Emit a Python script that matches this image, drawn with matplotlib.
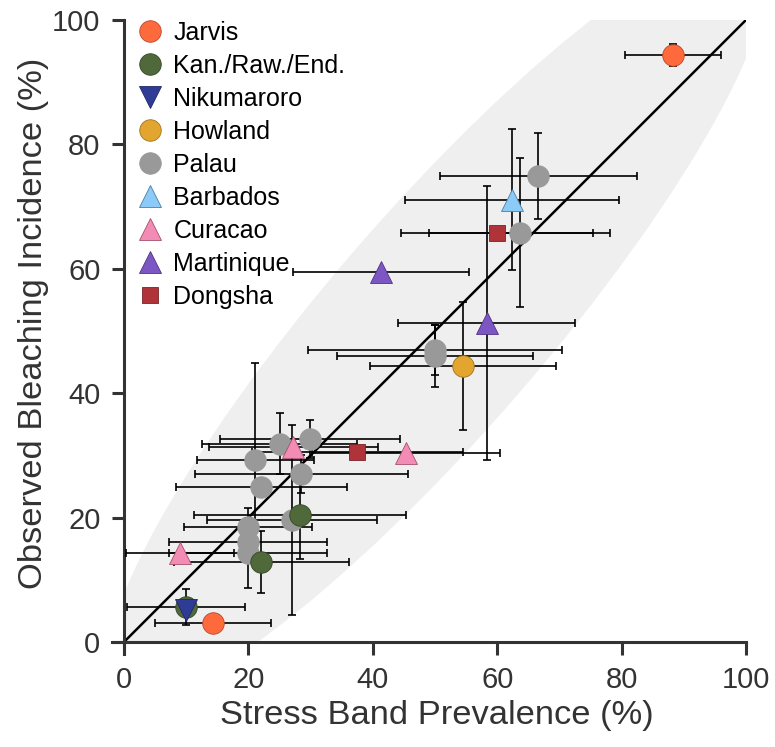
import numpy as np
import matplotlib.pyplot as plt
from matplotlib.patches import Ellipse, Rectangle

plt.rcParams['font.family'] = ['Liberation Sans', 'DejaVu Sans']

# data (stress band prevalence %, observed bleaching %)
jarvis_x = [88.3, 14.3]
jarvis_y = [94.4, 3.0]
jarvis_xerr = [7.7, 9.3]
jarvis_yerr = [1.8, 0]

kan_x = [28.3, 22.1, 10.0]
kan_y = [20.4, 12.9, 5.6]
kan_xerr = [17.1, 14.0, 9.5]
kan_yerr = [7.0, 5.0, 2.9]

nik_x = [10.0]
nik_y = [5.1]
nik_xerr = [0]
nik_yerr = [0]

howland_x = [54.5]
howland_y = [44.3]
howland_xerr = [15.0]
howland_yerr = [10.3]

palau_x = [66.6, 63.6, 50.0, 50.0, 29.9, 25.0, 21.1, 28.5, 22.1, 27.0, 20.0, 20.0, 20.0]
palau_y = [74.9, 65.8, 46.9, 46.0, 32.6, 31.9, 29.3, 27.0, 24.9, 19.6, 18.5, 16.1, 14.3]
palau_xerr = [15.8, 14.5, 20.4, 15.8, 14.5, 12.5, 9.4, 17.1, 13.8, 13.6, 10.3, 12.7, 12.7]
palau_yerr = [6.9, 12.0, 4.0, 5.0, 3.1, 4.9, 15.6, 3.0, 0, 15.3, 3.0, 0, 5.7]

barbados_x = [62.4]
barbados_y = [71.1]
barbados_xerr = [17.2]
barbados_yerr = [11.3]

curacao_x = [9.0, 27.2, 45.3]
curacao_y = [14.3, 31.4, 30.3]
curacao_xerr = [8.7, 13.6, 15.1]
curacao_yerr = [0, 0, 0]

martinique_x = [41.3, 58.3]
martinique_y = [59.5, 51.3]
martinique_xerr = [14.2, 14.2]
martinique_yerr = [0, 22.0]

dongsha_x = [60.0, 37.5]
dongsha_y = [65.8, 30.6]
dongsha_xerr = [15.4, 17.0]
dongsha_yerr = [0, 0]

ticks = [0, 20, 40, 60, 80, 100]

groups = [
    ('Jarvis', jarvis_x, jarvis_y, jarvis_xerr, jarvis_yerr, 'o', '#FF6A3C', '#B8462A', 15.5, 5),
    ('Kan./Raw./End.', kan_x, kan_y, kan_xerr, kan_yerr, 'o', '#50693B', '#344626', 15.5, 5),
    ('Nikumaroro', nik_x, nik_y, nik_xerr, nik_yerr, 'v', '#2F3C96', '#1E2766', 16, 6),
    ('Howland', howland_x, howland_y, howland_xerr, howland_yerr, 'o', '#E2A52F', '#A0741C', 15.5, 5),
    ('Palau', palau_x, palau_y, palau_xerr, palau_yerr, 'o', '#999999', '#999999', 15.5, 4),
    ('Barbados', barbados_x, barbados_y, barbados_xerr, barbados_yerr, '^', '#8CCBF7', '#4A7FA8', 16, 5),
    ('Curacao', curacao_x, curacao_y, curacao_xerr, curacao_yerr, '^', '#F28CB4', '#A5506E', 16, 5),
    ('Martinique', martinique_x, martinique_y, martinique_xerr, martinique_yerr, '^', '#7C56C2', '#4E3384', 16, 5),
    ('Dongsha', dongsha_x, dongsha_y, dongsha_xerr, dongsha_yerr, 's', '#B0333A', '#7A2228', 11.5, 5),
]

fig = plt.figure(figsize=(7.75, 7.47), dpi=100)
ax = fig.add_axes([0.144, 0.124, 0.8186, 0.8493])
ax.set_xlim(-2, 100)
ax.set_ylim(-2, 100)

# shaded band around the 1:1 line
band = Ellipse((50.3, 51.5), 157, 35, angle=49.2, facecolor='#EFEFEF', edgecolor='none', zorder=0)
ax.add_patch(band)
band.set_clip_path(Rectangle((0, 0), 100, 100, transform=ax.transData))

ax.plot([0, 100], [0, 100], color='black', lw=1.8, zorder=2)

handles = []
for name, xs, ys, xe, ye, mk, fc, ec, ms, z in groups:
    ax.errorbar(xs, ys, xerr=xe, yerr=ye, fmt='none', ecolor='black',
                elinewidth=1.2, capsize=3, capthick=1.2, zorder=3)
    h, = ax.plot(xs, ys, linestyle='none', marker=mk, markersize=ms,
                 markerfacecolor=fc, markeredgecolor=ec, markeredgewidth=0.6,
                 zorder=z, label=name)
    handles.append(h)

for s in ['top', 'right']:
    ax.spines[s].set_visible(False)
for s in ['left', 'bottom']:
    ax.spines[s].set_position(('data', 0))
    ax.spines[s].set_linewidth(2.2)
    ax.spines[s].set_color('#333333')

ax.set_xticks(ticks)
ax.set_yticks(ticks)
ax.tick_params(direction='out', length=9, width=2.2, color='#333333',
               labelsize=21, labelcolor='#333333', pad=8)
ax.set_xlabel('Stress Band Prevalence (%)', fontsize=24.8, color='#333333')
ax.set_ylabel('Observed Bleaching Incidence (%)', fontsize=24.8, color='#333333')
ax.xaxis.set_label_coords(0.513, -0.072)
ax.yaxis.set_label_coords(-0.099, 0.522)

ax.legend(handles=handles, loc='upper left', bbox_to_anchor=(0.177, 0.972),
          bbox_transform=fig.transFigure, frameon=False, fontsize=18,
          handlelength=1.0, handletextpad=0.45, labelspacing=0.36,
          borderpad=0, borderaxespad=0, numpoints=1)

fig.savefig('out.png', dpi=100)
